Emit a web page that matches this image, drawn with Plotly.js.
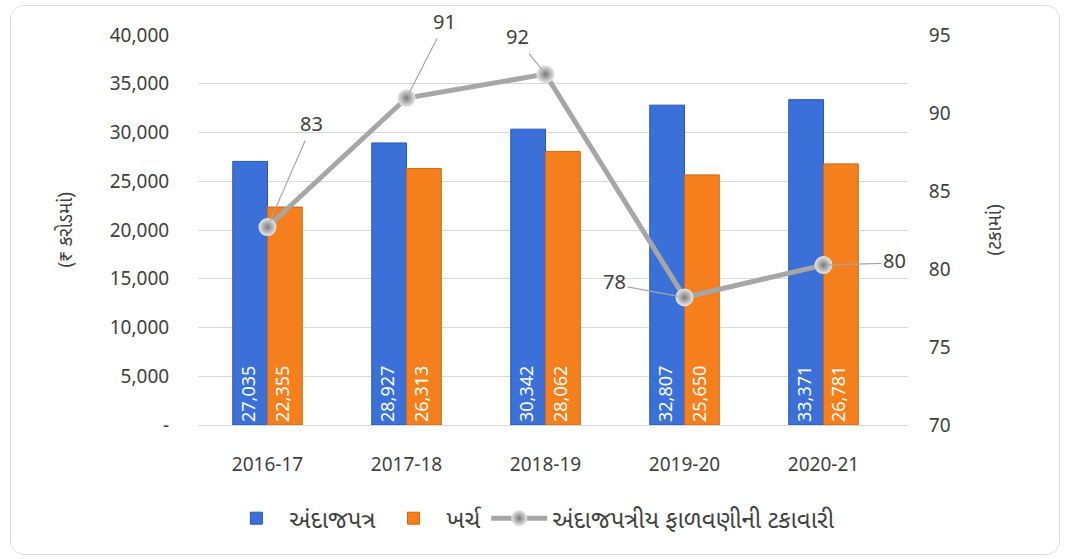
<!DOCTYPE html>
<html>
<head>
<meta charset="utf-8">
<script src="https://cdn.plot.ly/plotly-3.0.1.min.js"></script>
<style>
  html, body { margin: 0; padding: 0; background: #fff; }
  #chart { position: absolute; left: 10px; top: 5px; width: 1048px; height: 548px;
           border: 1.5px solid #d9d9d9; border-radius: 14px; overflow: hidden; }
</style>
</head>
<body>
<div id="chart"></div>
<script>
// values
var years = ["2016-17", "2017-18", "2018-19", "2019-20", "2020-21"];
var budget = [27035, 28927, 30342, 32807, 33371];
var spend = [22355, 26313, 28062, 25650, 26781];
var utilisation = [82.69, 90.96, 92.49, 78.18, 80.25];
var utilLabels = ["83", "91", "92", "78", "80"];
// label offsets for the leader lines (px)
var labelOffsets = [[44, -101], [38, -74], [-28, -35], [-70, -13], [71, -2]];

var fontFam = "'Noto Sans Gujarati', 'Noto Sans', 'Open Sans', sans-serif";
var textGrey = "#404040";

function fmt(v) {
  return v.toLocaleString("en-US");
}

var traceBudget = {
  name: "અંદાજપત્ર",
  type: "bar",
  x: years,
  y: budget,
  marker: { color: "#3a70d8", line: { color: "#2a57b0", width: 1 } },
  text: budget.map(fmt),
  textposition: "inside",
  insidetextanchor: "start",
  textangle: -90,
  constraintext: "none",
  textfont: { color: "#ffffff", size: 18, family: fontFam },
  hoverinfo: "x+y",
};

var traceSpend = {
  name: "ખર્ચ",
  type: "bar",
  x: years,
  y: spend,
  marker: { color: "#f47f1c", line: { color: "#cf6610", width: 1 } },
  text: spend.map(fmt),
  textposition: "inside",
  insidetextanchor: "start",
  textangle: -90,
  constraintext: "none",
  textfont: { color: "#ffffff", size: 18, family: fontFam },
  hoverinfo: "x+y",
};

var traceUtil = {
  name: "અંદાજપત્રીય ફાળવણીની ટકાવારી",
  type: "scatter",
  mode: "lines+markers",
  x: years,
  y: utilisation,
  yaxis: "y2",
  line: { color: "#a6a6a6", width: 5 },
  marker: {
    symbol: "circle",
    size: 18,
    color: "#e8e8e8",
    gradient: { type: "radial", color: "#7a7a7a" },
    line: { width: 0 },
  },
};

var annotations = utilisation.map(function (v, i) {
  return {
    x: years[i],
    y: v,
    xref: "x",
    yref: "y2",
    text: utilLabels[i],
    showarrow: true,
    arrowhead: 0,
    arrowwidth: 1.2,
    arrowcolor: "#a6a6a6",
    standoff: 6,
    ax: labelOffsets[i][0],
    ay: labelOffsets[i][1],
    font: { size: 20, color: textGrey, family: fontFam },
  };
});

// axis titles as rotated annotations (the built-in left title misplaces with the overlay axis)
annotations.push({
  xref: "paper", yref: "paper", x: -0.205, y: 0.5,
  text: "(₹ કરોડમાં)", textangle: -90, showarrow: false,
  font: { size: 19, color: textGrey, family: fontFam },
});
annotations.push({
  xref: "paper", yref: "paper", x: 1.145, y: 0.5,
  text: "(ટકામાં)", textangle: -90, showarrow: false,
  font: { size: 19, color: textGrey, family: fontFam },
});

var layout = {
  width: 1048,
  height: 548,
  margin: { l: 187, r: 151, t: 29, b: 129, autoexpand: false },
  paper_bgcolor: "#ffffff",
  plot_bgcolor: "#ffffff",
  font: { family: fontFam, color: textGrey, size: 19 },
  barmode: "group",
  bargap: 0.5,
  bargroupgap: 0,
  showlegend: true,
  legend: {
    orientation: "h",
    xref: "container",
    x: 0.497,
    xanchor: "center",
    y: -0.24,
    yanchor: "middle",
    font: { size: 24, color: textGrey, family: fontFam },
    traceorder: "normal",
    itemwidth: 56,
  },
  xaxis: {
    type: "category",
    automargin: false,
    tickangle: 0,
    showgrid: false,
    showline: true,
    linecolor: "#d9d9d9",
    linewidth: 1,
    ticks: "outside",
    ticklen: 22,
    tickcolor: "rgba(0,0,0,0)",
    tickfont: { size: 19, color: textGrey },
  },
  yaxis: {
    automargin: false,
    range: [0, 40000],
    tickvals: [0, 5000, 10000, 15000, 20000, 25000, 30000, 35000, 40000],
    ticktext: ["-", "5,000", "10,000", "15,000", "20,000", "25,000", "30,000", "35,000", "40,000"],
    showgrid: true,
    gridcolor: "#d9d9d9",
    gridwidth: 1,
    zeroline: false,
    showline: false,
    ticks: "outside",
    ticklen: 24,
    tickcolor: "rgba(0,0,0,0)",
    tickfont: { size: 19, color: textGrey },
  },
  yaxis2: {
    automargin: false,
    overlaying: "y",
    side: "right",
    range: [70, 95],
    dtick: 5,
    showgrid: false,
    zeroline: false,
    showline: false,
    ticks: "outside",
    ticklen: 16,
    tickcolor: "rgba(0,0,0,0)",
    tickfont: { size: 19, color: textGrey },
  },
  annotations: annotations,
};

Plotly.newPlot("chart", [traceBudget, traceSpend, traceUtil], layout, { displayModeBar: false, responsive: false });
</script>
</body>
</html>
